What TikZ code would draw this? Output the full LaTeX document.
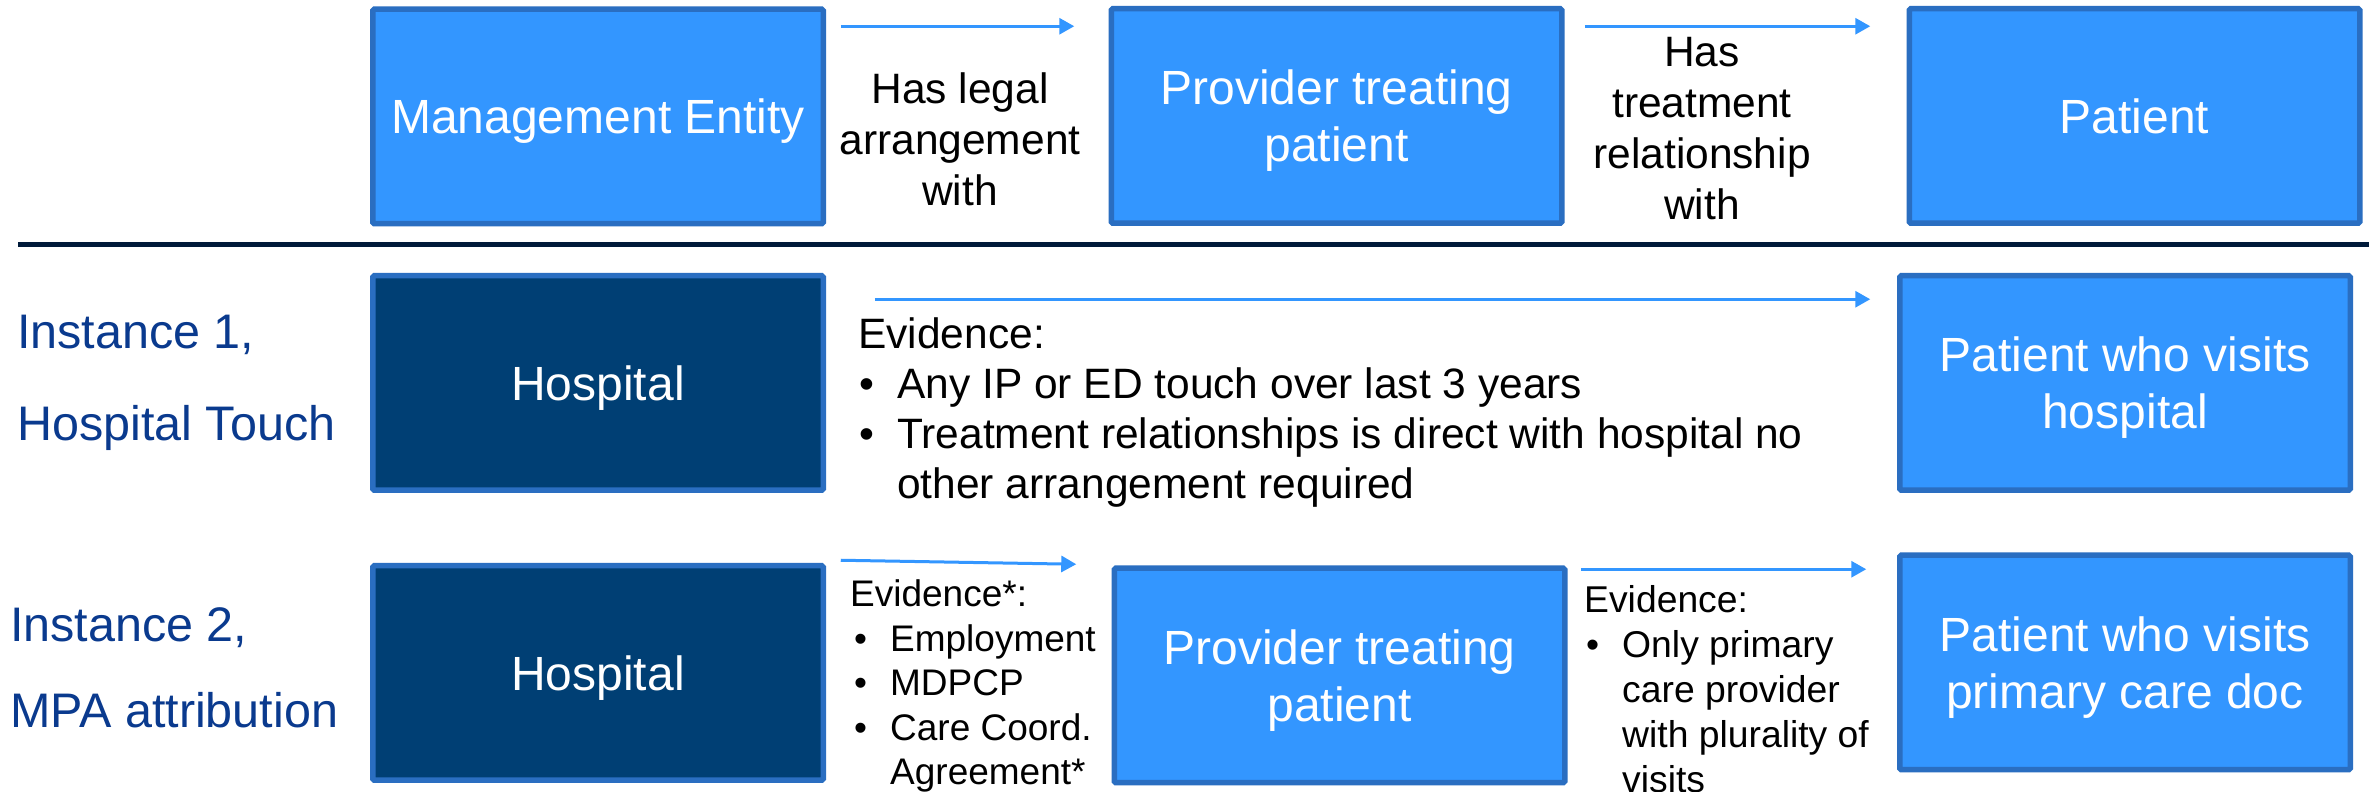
\documentclass[tikz,border=0pt]{standalone}
\usepackage{fontspec}
\setmainfont{Liberation Sans}
\usetikzlibrary{arrows.meta}

\definecolor{boxblue}{HTML}{3396FF}
\definecolor{boxedge}{HTML}{2A6EC1}
\definecolor{boxnavy}{HTML}{003F74}
\definecolor{rulenavy}{HTML}{001A3A}
\definecolor{labelnavy}{HTML}{0A3A8E}

% bullet in a box of width #1, the dot pushed right by #2
\newcommand\evb[2]{\makebox[#1][l]{\hspace*{#2}•}}
% last line of a box text, with its descenders not counted
\newcommand\lastln[1]{\raisebox{0pt}[\height][0pt]{#1}}

\begin{document}
\begin{tikzpicture}[x=1pt,y=1pt,
  entity/.style={draw=boxedge, line width=5.5pt, rounded corners=1.5pt,
    minimum width=450.5pt, minimum height=214.5pt, inner sep=0pt,
    text=white, align=center, font=\fontsize{48}{57}\selectfont},
  lightbox/.style={entity, fill=boxblue},
  darkbox/.style={entity, fill=boxnavy},
  oneline/.style={text depth=0pt},
  link/.style={draw=boxblue, line width=3pt, -{Triangle[length=15pt,width=16pt]}},
  caption/.style={inner sep=0pt, align=center, anchor=north,
    font=\fontsize{42.5}{51}\selectfont},
  evidence/.style={inner sep=0pt, align=left, anchor=north west},
  instance/.style={inner sep=0pt, align=left, anchor=north west, text=labelnavy}
]
\fill[white] (0,0) rectangle (2369,792);
\useasboundingbox (0,0) rectangle (2369,792);

% general relationship chain
\node[lightbox, oneline] (mgmt) at (598,675.5) {Management Entity};
\node[lightbox] (prov) at (1336.5,676) {Provider treating\\\lastln{patient}};
\node[lightbox, oneline] (pat) at (2134.5,676) {Patient};

\node[caption] (cap1) at (960,719.5) {Has legal\\arrangement\\with};
\node[caption] (cap2) at (1702,754.5) {Has\\treatment\\relationship\\with};

\draw[link] ([shift={(14.75,-19.75)}]mgmt.north east) -- ([shift={(-34.25,-20.25)}]prov.north west);
\draw[link] ([shift={(20.25,-20.25)}]prov.north east) -- ([shift={(-36.25,-20.25)}]pat.north west);

% divider
\coordinate (ruleL) at (18,547);
\coordinate (ruleR) at (2369,547);
\draw[rulenavy, line width=5pt] (ruleL) -- (ruleR);

% instance 1
\node[instance, font=\fontsize{48.5}{92}\selectfont] (inst1) at (17,477) {Instance 1,\\Hospital Touch};
\node[darkbox, oneline] (hosp1) at (598,409) {Hospital};
\node[lightbox] (pat1) at (2125,409) {Patient who visits\\\lastln{hospital}};
\draw[link] ([shift={(48.75,-26.25)}]hosp1.north east) -- ([shift={(-26.75,-26.25)}]pat1.north west);
\node[evidence, font=\fontsize{42.5}{50}\selectfont] (ev1) at (858,474.5)
  {Evidence:\\
   \evb{39pt}{1.5pt}Any IP or ED touch over last 3 years\\
   \evb{39pt}{1.5pt}Treatment relationships is direct with hospital no\\
   \hspace*{39pt}other arrangement required};

% instance 2
\node[instance, font=\fontsize{48.5}{86}\selectfont] (inst2) at (10,185) {Instance 2,\\MPA attribution};
\node[darkbox, oneline] (hosp2) at (598,119) {Hospital};
\node[lightbox] (prov2) at (1339.5,116.5) {Provider treating\\\lastln{patient}};
\node[lightbox] (pat2) at (2125,129.5) {Patient who visits\\\lastln{primary care doc}};
\draw[link] ([shift={(14.75,2.75)}]hosp2.north east) -- ([shift={(-35.25,1.25)}]prov2.north west);
\draw[link] ([shift={(13.25,-3.75)}]prov2.north east) -- ([shift={(-30.75,-16.75)}]pat2.north west);
\node[evidence, font=\fontsize{37}{44.5}\selectfont] (ev2) at (850,212.5)
  {Evidence*:\\
   \evb{40pt}{4pt}Employment\\
   \evb{40pt}{4pt}MDPCP\\
   \evb{40pt}{4pt}Care Coord.\\
   \hspace*{40pt}Agreement*};
\node[evidence, font=\fontsize{37.3}{45}\selectfont] (ev3) at (1584,206.5)
  {Evidence:\\
   \evb{38pt}{2pt}Only primary\\
   \hspace*{38pt}care provider\\
   \hspace*{38pt}with plurality of\\
   \hspace*{38pt}visits};
\end{tikzpicture}
\end{document}
